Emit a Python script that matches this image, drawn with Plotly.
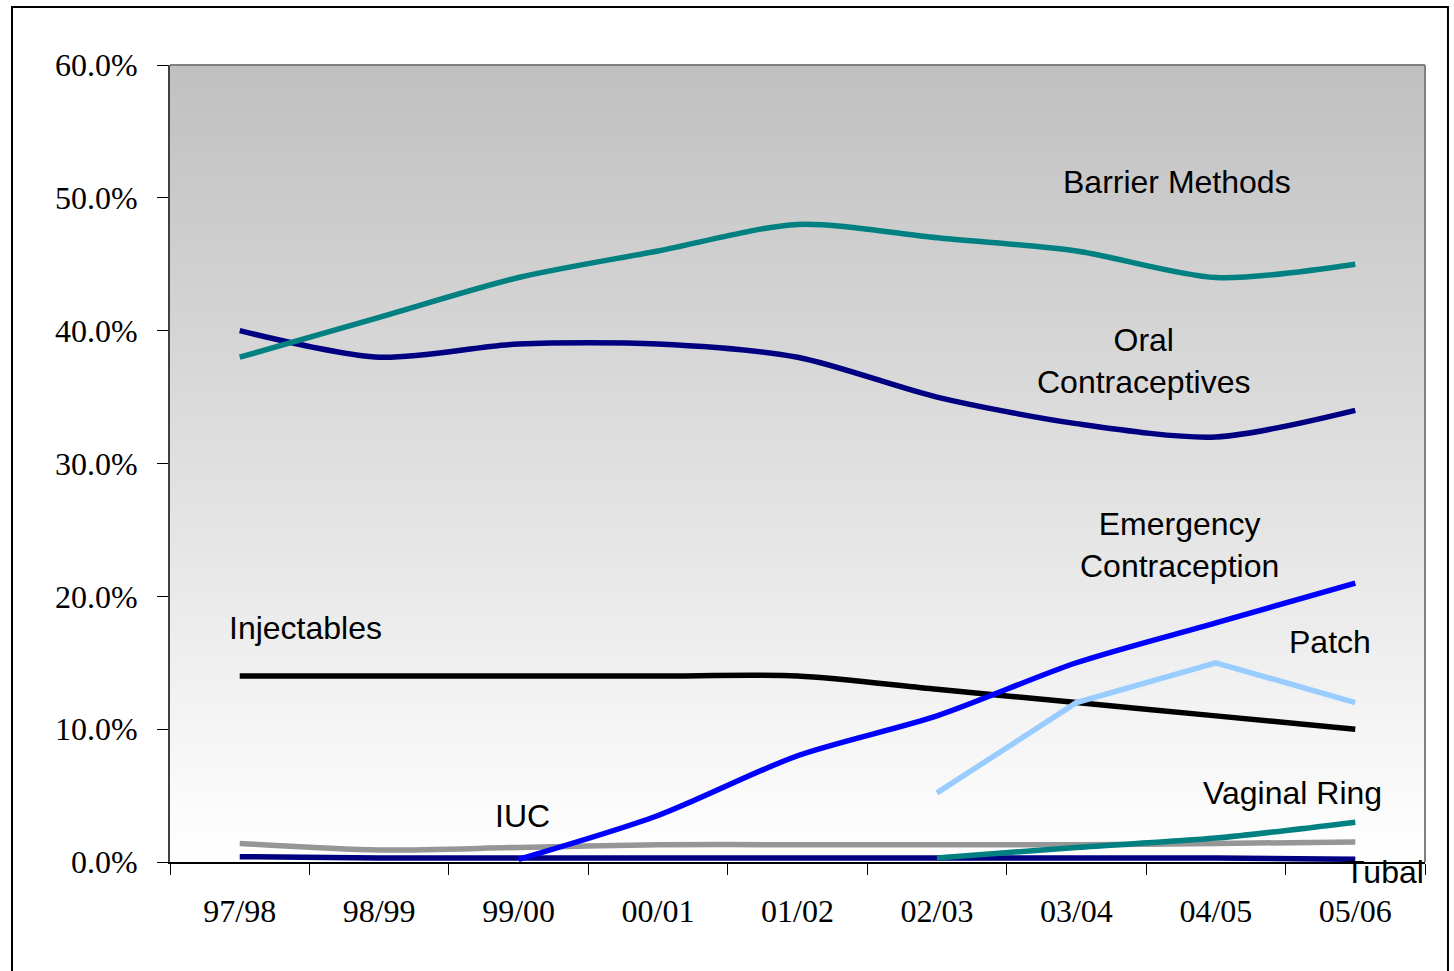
import plotly.graph_objects as go

# School years on the category axis
years = ["97/98", "98/99", "99/00", "00/01", "01/02", "02/03", "03/04", "04/05", "05/06"]

# Share of clients by contraceptive method (%)
barrier = [38.0, 41.0, 44.0, 46.0, 48.0, 47.0, 46.0, 44.0, 45.0]
oral = [40.0, 38.0, 39.0, 39.0, 38.0, 35.0, 33.0, 32.0, 34.0]
injectables = [14.0, 14.0, 14.0, 14.0, 14.0, 13.0, 12.0, 11.0, 10.0]
emergency = [None, None, 0.2, 3.5, 8.0, 11.0, 15.0, 18.0, 21.0]
patch = [None, None, None, None, None, 5.2, 12.0, 15.0, 12.0]
ring = [None, None, None, None, None, 0.3, 1.1, 1.8, 3.0]
iuc = [1.4, 0.9, 1.1, 1.3, 1.3, 1.3, 1.3, 1.4, 1.5]
tubal = [0.4, 0.3, 0.3, 0.3, 0.3, 0.3, 0.3, 0.3, 0.2]

fig = go.Figure()

series = [
    ("Tubal", tubal, "#000080", "spline"),
    ("IUC", iuc, "#969696", "spline"),
    ("Injectables", injectables, "#000000", "spline"),
    ("Oral Contraceptives", oral, "#000080", "spline"),
    ("Barrier Methods", barrier, "#008080", "spline"),
    ("Vaginal Ring", ring, "#008080", "spline"),
    ("Patch", patch, "#99CCFF", "linear"),
    ("Emergency Contraception", emergency, "#0000FF", "spline"),
]
for name, vals, color, shape in series:
    fig.add_trace(go.Scatter(
        x=years, y=vals, name=name, mode="lines",
        line=dict(color=color, width=5.5, shape=shape, smoothing=0.8),
        connectgaps=False, showlegend=False, cliponaxis=False,
    ))

# Vertical grey-to-white gradient behind the plot area: nested rectangles,
# each drawn from the bottom edge up, so no seams show between steps
shapes = []
bands = 200
for i in range(bands):
    t = i / (bands - 1)
    c = int(round(192 + (255 - 192) * t))
    shapes.append(dict(
        type="rect", xref="paper", yref="paper", layer="below",
        x0=0, x1=1, y0=0, y1=1 - i / bands,
        fillcolor=f"rgb({c},{c},{c})", line=dict(width=0),
    ))
# Plot frame (top and right edges)
shapes.append(dict(type="line", xref="paper", yref="paper", x0=0, x1=1, y0=1, y1=1,
                   line=dict(color="#808080", width=2)))
shapes.append(dict(type="line", xref="paper", yref="paper", x0=1, x1=1, y0=0, y1=1,
                   line=dict(color="#808080", width=2)))
# Outer border around the whole chart
shapes.append(dict(type="rect", xref="paper", yref="paper",
                   x0=-0.1259, x1=1.0183, y0=-0.15, y1=1.0728,
                   line=dict(color="#000000", width=2), fillcolor="rgba(0,0,0,0)"))

lbl_font = dict(family="Liberation Sans, Arial, sans-serif", size=32, color="#000000")
labels = [
    ("Barrier Methods", 6.72, 51.2),
    ("Oral<br>Contraceptives", 6.48, 37.7),
    ("Emergency<br>Contraception", 6.74, 23.9),
    ("Injectables", 0.47, 17.6),
    ("Patch", 7.82, 16.6),
    ("Vaginal Ring", 7.55, 5.2),
    ("IUC", 2.03, 3.5),
]
annotations = [
    dict(text=t, x=x, y=y, xref="x", yref="y", showarrow=False, font=lbl_font,
         xanchor="center", yanchor="middle", align="center")
    for t, x, y in labels
]
# "Tubal" sits just below the baseline, so it is placed in paper units
annotations.append(dict(text="Tubal", x=8.21, y=-0.012, xref="x", yref="paper",
                        showarrow=False, font=lbl_font,
                        xanchor="center", yanchor="middle"))

tick_font = dict(family="Liberation Serif, Times New Roman, serif", size=32, color="#000000")

fig.update_layout(
    width=1454, height=971,
    margin=dict(l=170, r=29, t=65, b=109),
    paper_bgcolor="#FFFFFF",
    plot_bgcolor="#FFFFFF",
    shapes=shapes,
    annotations=annotations,
    xaxis=dict(
        type="category", range=[-0.5, 8.5], showgrid=False, zeroline=False,
        showline=True, linecolor="#000000", linewidth=2,
        ticks="outside", tickson="boundaries", ticklen=11, tickwidth=1, tickcolor="#000000",
        tickfont=tick_font, ticklabelstandoff=20,
    ),
    yaxis=dict(
        range=[0, 60], dtick=10, tickformat=".1f", ticksuffix="%",
        showgrid=False, zeroline=False,
        showline=True, linecolor="#404040", linewidth=2,
        ticks="outside", ticklen=11, tickwidth=1, tickcolor="#000000",
        tickfont=tick_font, ticklabelstandoff=13,
    ),
)

fig.write_html("out.html")
